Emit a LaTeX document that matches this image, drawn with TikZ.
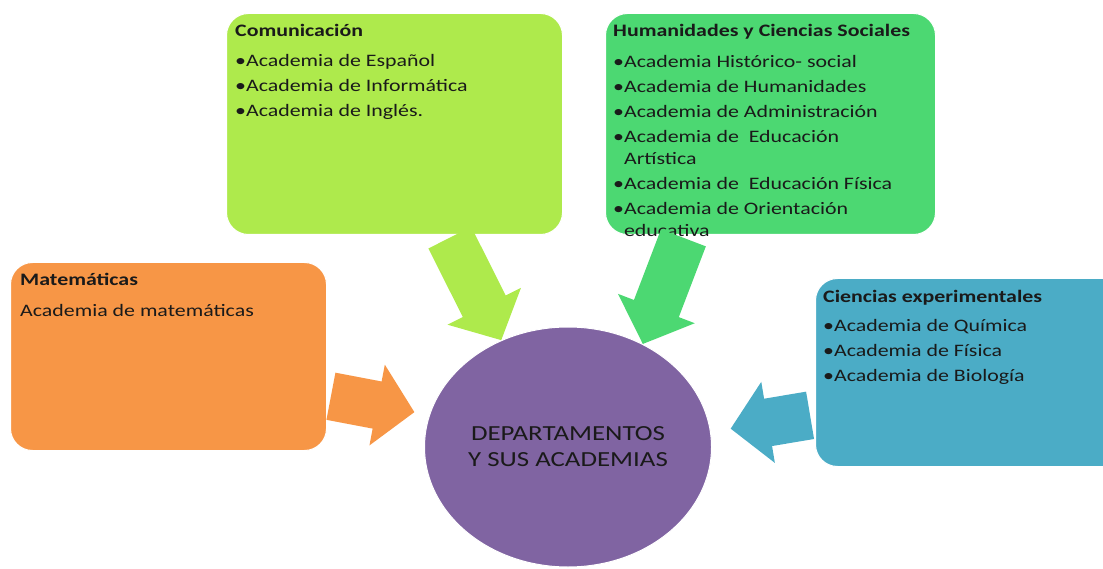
\documentclass[tikz,border=0pt]{standalone}
\usepackage{fontspec}
\setmainfont{Carlito}[FakeStretch=1.25]
\usepackage{tikz}
\usetikzlibrary{arrows.meta,shapes.geometric,calc}
\definecolor{comfill}{HTML}{AEEA4C}
\definecolor{humfill}{HTML}{4CD872}
\definecolor{matfill}{HTML}{F79646}
\definecolor{ciefill}{HTML}{4BACC6}
\definecolor{depfill}{HTML}{8064A2}
\definecolor{ink}    {HTML}{1A1A1A}

\tikzset{
  deptbox/.style={draw=white,line width=1pt,rounded corners=22pt,
                  anchor=north west,inner sep=0pt},
  depttext/.style={anchor=north west,align=left,inner sep=0pt,text=ink,
                   font=\fontsize{17.5}{22}\selectfont},
  fatarrow/.style={line width=48pt,-{Triangle[width=80pt,length=38pt]}}
}

\begin{document}
\begin{tikzpicture}[x=1pt,y=-1pt]
  \useasboundingbox (0,0) rectangle (1103,569);

  % boxes of the departments
  \node[deptbox,fill=comfill,minimum width=336pt,minimum height=221pt] (com) at (226,13) {};
  \node[deptbox,fill=humfill,minimum width=330pt,minimum height=221pt] (hum) at (605,13) {};
  \node[deptbox,fill=matfill,minimum width=316pt,minimum height=188pt] (mat) at (10,262) {};
  \node[deptbox,fill=ciefill,minimum width=320pt,minimum height=188pt] (cie) at (815,278) {};

  \node[depttext] (comtxt) at ([shift={(9,11)}]com.north west)
    {{\bfseries Comunicación}\\[8pt]
     •Academia de Español\\[3pt]
     •Academia de Informática\\[3pt]
     •Academia de Inglés.};
  \node[depttext] (humtxt) at ([shift={(8,11)}]hum.north west)
    {{\bfseries Humanidades y Ciencias Sociales}\\[9pt]
     •Academia Histórico- social\\[3pt]
     •Academia de Humanidades\\[3pt]
     •Academia de Administración\\[3pt]
     •Academia de~ Educación\\
     \phantom{•}Artística\\[3pt]
     •Academia de~ Educación Física\\[3pt]
     •Academia de Orientación\\
     \phantom{•}educativa};
  \node[depttext] (mattxt) at ([shift={(10,11)}]mat.north west)
    {{\bfseries Matemáticas}\\[9pt]
     Academia de matemáticas};
  \node[depttext] (cietxt) at ([shift={(8,12)}]cie.north west)
    {{\bfseries Ciencias experimentales}\\[7pt]
     •Academia de Química\\[3pt]
     •Academia de Física\\[3pt]
     •Academia de Biología};

  % the centre
  \node[ellipse,draw=white,line width=1pt,fill=depfill,inner sep=0pt,
        minimum width=287pt,minimum height=240pt,align=center,text=ink,
        font=\fontsize{21.5}{26}\selectfont] (dep) at (568,447)
    {DEPARTAMENTOS\\Y SUS ACADEMIAS};

  % block arrows into the centre
  \draw[fatarrow,comfill,shorten <=3pt] ([xshift=54pt]com.south) -- (dep.122);
  \draw[fatarrow,humfill,shorten <=3pt] ([xshift=-86pt]hum.south) -- (dep.54);
  \draw[fatarrow,matfill,shorten <=4pt,shorten >=15pt] ([yshift=-39pt]mat.east) -- (dep.167);
  \draw[fatarrow,ciefill,shorten <=5pt,shorten >=20pt] ([yshift=-42pt]cie.west) -- (dep.6);
\end{tikzpicture}
\end{document}
